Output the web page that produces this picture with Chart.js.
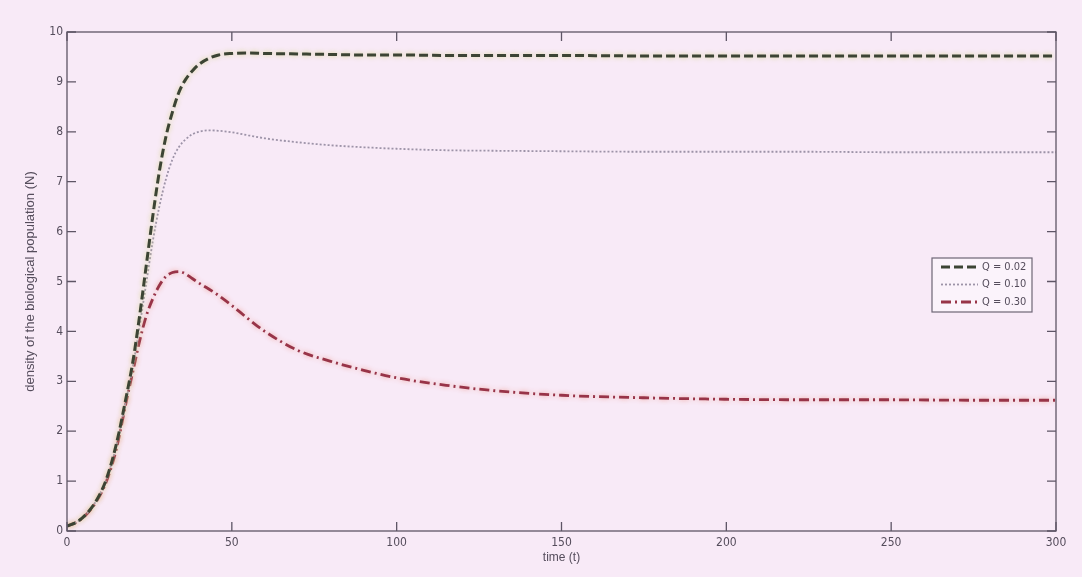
<!DOCTYPE html>
<html>
<head>
<meta charset="utf-8">
<script src="https://cdn.jsdelivr.net/npm/chart.js@4.4.1/dist/chart.umd.min.js"></script>
<style>
  html, body { margin: 0; padding: 0; background: #f8eaf7; }
  #wrap { width: 1082px; height: 577px; }
</style>
</head>
<body>
<div id="wrap"><canvas id="c" width="1082" height="577"></canvas></div>
<script>
// ---- data ----
const times = [0, 3, 6, 9, 12, 15, 18, 20, 22, 24, 26, 28, 30, 32, 34, 36, 38, 40, 43, 46, 50, 55, 60, 70, 80, 90, 100, 115, 130, 150, 175, 200, 225, 250, 275, 300];
const q002 = [0.10, 0.18, 0.35, 0.62, 1.05, 1.75, 2.70, 3.40, 4.30, 5.30, 6.30, 7.20, 7.90, 8.40, 8.80, 9.05, 9.22, 9.35, 9.47, 9.54, 9.57, 9.58, 9.57, 9.56, 9.55, 9.54, 9.54, 9.53, 9.53, 9.53, 9.52, 9.52, 9.52, 9.52, 9.52, 9.52];
const q010 = [0.10, 0.18, 0.35, 0.62, 1.04, 1.72, 2.65, 3.30, 4.10, 4.95, 5.80, 6.50, 7.05, 7.45, 7.70, 7.85, 7.95, 8.00, 8.03, 8.02, 7.99, 7.93, 7.87, 7.79, 7.73, 7.69, 7.66, 7.63, 7.62, 7.61, 7.60, 7.60, 7.60, 7.59, 7.59, 7.59];
const q030 = [0.10, 0.18, 0.34, 0.60, 1.00, 1.65, 2.60, 3.20, 3.80, 4.30, 4.65, 4.92, 5.10, 5.18, 5.20, 5.15, 5.06, 4.97, 4.85, 4.72, 4.52, 4.25, 4.00, 3.62, 3.40, 3.22, 3.07, 2.92, 2.81, 2.72, 2.67, 2.64, 2.63, 2.63, 2.62, 2.62];
const seriesLabels = ['Q = 0.02', 'Q = 0.10', 'Q = 0.30'];
const xTickStep = 50, xMax = 300;
const yTickStep = 1, yMax = 10;
const xTitle = 'time (t)';
const yTitle = 'density of the biological population (N)';

const BG = '#f8eaf7';
const AXIS = '#5e5566';
const TXT = '#554d5c';
const FONT = "'Liberation Sans', 'DejaVu Sans', sans-serif";
const NARROW = "'Liberation Sans Narrow', 'DejaVu Sans Condensed', 'Liberation Sans', sans-serif";

const pts = arr => times.map((t, i) => ({ x: t, y: arr[i] }));

const halo = {
  id: 'halo',
  beforeDatasetDraw(chart, args) {
    const ds = chart.data.datasets[args.index];
    chart.ctx.save();
    if (ds.haloColor) {
      chart.ctx.shadowColor = ds.haloColor;
      chart.ctx.shadowBlur = 5;
    }
  },
  afterDatasetDraw(chart) { chart.ctx.restore(); }
};

const frame = {
  id: 'frame',
  beforeDraw(chart) {
    const ctx = chart.ctx;
    ctx.save();
    ctx.fillStyle = BG;
    ctx.fillRect(0, 0, chart.width, chart.height);
    ctx.restore();
  },
  afterDraw(chart) {
    const { ctx, chartArea: a, scales } = chart;
    const tl = 9;
    ctx.save();
    ctx.strokeStyle = AXIS;
    ctx.lineWidth = 1.3;
    ctx.strokeRect(a.left, a.top, a.right - a.left, a.bottom - a.top);
    ctx.beginPath();
    scales.x.ticks.forEach(t => {
      const px = scales.x.getPixelForValue(t.value);
      ctx.moveTo(px, a.bottom); ctx.lineTo(px, a.bottom - tl);
      ctx.moveTo(px, a.top); ctx.lineTo(px, a.top + tl);
    });
    scales.y.ticks.forEach(t => {
      const py = scales.y.getPixelForValue(t.value);
      ctx.moveTo(a.left, py); ctx.lineTo(a.left + tl, py);
      ctx.moveTo(a.right, py); ctx.lineTo(a.right - tl, py);
    });
    ctx.stroke();

    // legend box inside the plot
    const bx = 932, by = 258, bw = 100, bh = 54;
    ctx.fillStyle = '#fbf3fb';
    ctx.fillRect(bx, by, bw, bh);
    ctx.strokeStyle = '#6e6676';
    ctx.lineWidth = 1.2;
    ctx.strokeRect(bx, by, bw, bh);
    ctx.font = '11px ' + NARROW;
    ctx.textBaseline = 'middle';
    chart.data.datasets.forEach((ds, i) => {
      const y = by + 9 + i * 17.5;
      ctx.save();
      ctx.strokeStyle = ds.borderColor;
      ctx.lineWidth = ds.borderWidth;
      ctx.setLineDash(ds.borderDash || []);
      ctx.beginPath();
      ctx.moveTo(bx + 9, y); ctx.lineTo(bx + 46, y);
      ctx.stroke();
      ctx.restore();
      ctx.fillStyle = TXT;
      ctx.fillText(ds.label, bx + 50, y);
    });
    ctx.restore();
  }
};

new Chart(document.getElementById('c'), {
  type: 'line',
  data: {
    datasets: [
      { label: seriesLabels[0], data: pts(q002), borderColor: '#3c4434', borderWidth: 3, borderDash: [9, 4], haloColor: 'rgba(215,215,140,0.9)' },
      { label: seriesLabels[1], data: pts(q010), borderColor: '#9d93a8', borderWidth: 1.8, borderDash: [2, 2] },
      { label: seriesLabels[2], data: pts(q030), borderColor: '#983448', borderWidth: 2.8, borderDash: [10, 4, 2, 4], haloColor: 'rgba(240,160,150,0.9)' }
    ]
  },
  options: {
    responsive: false,
    animation: false,
    devicePixelRatio: 1,
    layout: { padding: { top: 32, right: 26, left: 0, bottom: 0 } },
    elements: { point: { radius: 0 }, line: { cubicInterpolationMode: 'monotone', fill: false } },
    plugins: { legend: { display: false }, tooltip: { enabled: false } },
    scales: {
      x: {
        type: 'linear', min: 0, max: xMax,
        grid: { display: false, drawTicks: false },
        border: { display: false },
        ticks: { stepSize: xTickStep, padding: 5, color: TXT, font: { family: NARROW, size: 12 } },
        title: { display: true, text: xTitle, color: TXT, font: { family: FONT, size: 12 }, padding: { top: 0, bottom: 12 } },
        afterFit(s) { s.height = 46; }
      },
      y: {
        type: 'linear', min: 0, max: yMax,
        grid: { display: false, drawTicks: false },
        border: { display: false },
        ticks: { stepSize: yTickStep, padding: 4, color: TXT, font: { family: NARROW, size: 12 } },
        title: { display: true, text: yTitle, color: TXT, font: { family: FONT, size: 13 }, padding: { top: 23, bottom: 0 } },
        afterFit(s) { s.width = 67; }
      }
    }
  },
  plugins: [halo, frame]
});
</script>
</body>
</html>
